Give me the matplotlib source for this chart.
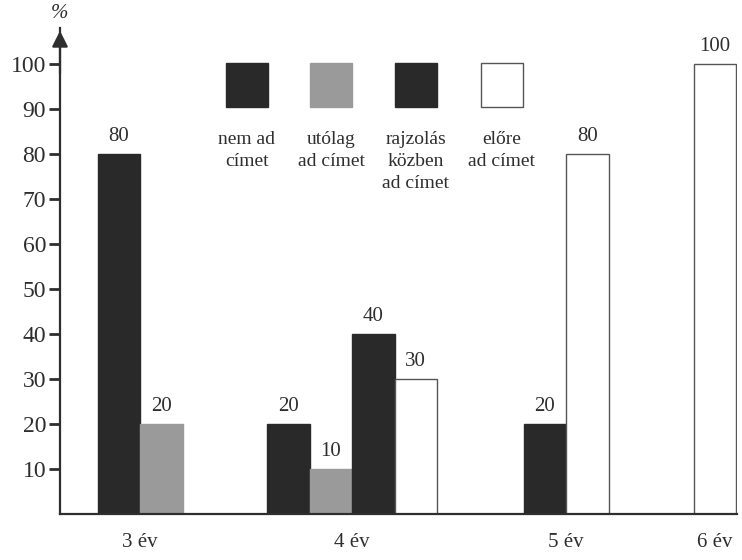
import matplotlib.pyplot as plt
from matplotlib.patches import Rectangle

plt.rcParams['font.family'] = ['Liberation Serif', 'DejaVu Serif']

categories = ['3 év', '4 év', '5 év', '6 év']
series_labels = ['nem ad\ncímet', 'utólag\nad címet', 'rajzolás\nközben\nad címet', 'előre\nad címet']
nem_ad = [80, 20, 0, 0]
utolag = [20, 10, 0, 0]
rajzolas = [0, 40, 20, 0]
elore = [0, 30, 80, 100]
yticks = [10, 20, 30, 40, 50, 60, 70, 80, 90, 100]

# layout (x in px-like units from the y axis)
group_x = [80, 292, 506, 655]
bar_w = 42.5
ink = '#2e2e2e'
fills = ['#292929', '#9a9a9a', '#292929', 'white']
values = [nem_ad, utolag, rajzolas, elore]

fig = plt.figure(figsize=(7.42, 5.6), dpi=100)
ax = fig.add_axes([60 / 742, 1 - 514 / 560, 677 / 742, 486 / 560])
ax.set_xlim(0, 677)
ax.set_ylim(0, 108)

for g in range(len(categories)):
    present = [s for s in range(4) if values[s][g] > 0]
    left = group_x[g] - len(present) * bar_w / 2
    for k, s in enumerate(present):
        v = values[s][g]
        ax.bar(left + k * bar_w, v, width=bar_w, align='edge', color=fills[s],
               edgecolor='#555555' if s == 3 else fills[s], linewidth=1)
        ax.annotate(str(v), (left + (k + 0.5) * bar_w, v), xytext=(0, 6),
                    textcoords='offset points', ha='center', va='bottom',
                    fontsize=15, color=ink)

# legend
leg_x = [166, 250, 335, 421]
for s in range(4):
    ax.add_patch(Rectangle((leg_x[s], 90.4), 42, 9.8, facecolor=fills[s],
                           edgecolor='#555555' if s == 3 else fills[s], lw=1))
    ax.text(leg_x[s] + 21, 85, series_labels[s], ha='center', va='top',
            fontsize=14, color=ink, linespacing=1.35)

for sp in ['top', 'right']:
    ax.spines[sp].set_visible(False)
for sp in ['left', 'bottom']:
    ax.spines[sp].set_linewidth(1.6)
    ax.spines[sp].set_color(ink)

ax.annotate('', xy=(0, 1), xytext=(0, 0.9), xycoords='axes fraction',
            arrowprops=dict(arrowstyle='-|>', lw=1.6, color=ink, mutation_scale=24))
ax.text(0, 1.01, '%', transform=ax.transAxes, ha='center', va='bottom',
        fontsize=15, style='italic', color=ink)

ax.set_yticks(yticks)
ax.set_yticklabels([str(t) for t in yticks])
ax.tick_params(axis='y', direction='out', length=8, width=2, color=ink,
               labelsize=17, labelcolor=ink, pad=2)
ax.set_xticks(group_x)
ax.set_xticklabels(categories)
ax.tick_params(axis='x', length=0, labelsize=15, labelcolor=ink, pad=14)

fig.savefig('out.png', dpi=100)
